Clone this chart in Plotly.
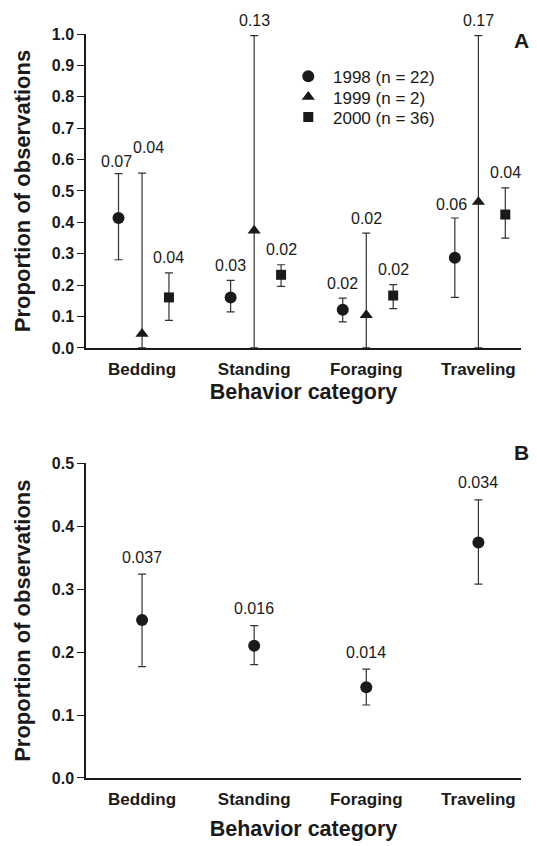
import plotly.graph_objects as go

# Behaviour categories on the x axis
categories = ["Bedding", "Standing", "Foraging", "Traveling"]

# Panel A: yearly means with interval bounds and standard errors
mean_1998 = [0.414, 0.161, 0.122, 0.287]
upper_1998 = [0.555, 0.215, 0.159, 0.414]
lower_1998 = [0.281, 0.115, 0.083, 0.161]
se_1998 = ["0.07", "0.03", "0.02", "0.06"]

mean_1999 = [0.045, 0.374, 0.105, 0.465]
upper_1999 = [0.557, 0.995, 0.366, 0.995]
lower_1999 = [0.0, 0.0, 0.0, 0.0]
se_1999 = ["0.04", "0.13", "0.02", "0.17"]

mean_2000 = [0.161, 0.233, 0.167, 0.425]
upper_2000 = [0.239, 0.265, 0.202, 0.510]
lower_2000 = [0.088, 0.196, 0.125, 0.350]
se_2000 = ["0.04", "0.02", "0.02", "0.04"]

# Panel B: pooled means
mean_all = [0.251, 0.210, 0.144, 0.374]
upper_all = [0.324, 0.242, 0.173, 0.442]
lower_all = [0.177, 0.180, 0.116, 0.308]
se_all = ["0.037", "0.016", "0.014", "0.034"]

yticks_a = [i / 10 for i in range(11)]
yticks_b = [i / 10 for i in range(6)]

INK = "#1a1a1a"
BAR = "#333333"
FONT = "Liberation Sans, Arial, sans-serif"

fig = go.Figure()
annotations = []

series_a = [
    ("1998 (n = 22)", "circle", 12, -0.21, mean_1998, upper_1998, lower_1998, se_1998),
    ("1999 (n = 2)", "triangle-up", 11.5, 0.0, mean_1999, upper_1999, lower_1999, se_1999),
    ("2000 (n = 36)", "square", 10, 0.24, mean_2000, upper_2000, lower_2000, se_2000),
]
legend_ids = ["legend", "legend2", "legend3"]

# per-label nudges (series index, category index) -> (xshift, yshift)
label_nudge = {(0, 0): (-2, 12), (1, 0): (6, 26), (0, 3): (-3, 13)}

for si, (name, sym, size, off, mean, up, lo, se) in enumerate(series_a):
    xs = [i + off for i in range(len(categories))]
    fig.add_trace(go.Scatter(
        x=xs, y=mean, mode="markers", name="\u00a0" + name,
        legend=legend_ids[si],
        marker=dict(symbol=sym, size=size, color=INK),
        error_y=dict(type="data", symmetric=False,
                     array=[u - m for u, m in zip(up, mean)],
                     arrayminus=[m - l for m, l in zip(mean, lo)],
                     color=BAR, thickness=1.2, width=4),
        cliponaxis=False, xaxis="x", yaxis="y",
    ))
    for ci, (x, u, s) in enumerate(zip(xs, up, se)):
        dx, dy = label_nudge.get((si, ci), (0, 15))
        annotations.append(dict(
            x=x, y=u, xref="x", yref="y", text=s, showarrow=False,
            xanchor="center", yanchor="middle", xshift=dx, yshift=dy,
            font=dict(family=FONT, size=16, color=INK)))

xs_b = list(range(len(categories)))
fig.add_trace(go.Scatter(
    x=xs_b, y=mean_all, mode="markers", showlegend=False,
    marker=dict(symbol="circle", size=12, color=INK),
    error_y=dict(type="data", symmetric=False,
                 array=[u - m for u, m in zip(upper_all, mean_all)],
                 arrayminus=[m - l for m, l in zip(mean_all, lower_all)],
                 color=BAR, thickness=1.2, width=4),
    cliponaxis=False, xaxis="x2", yaxis="y2",
))
for x, u, s in zip(xs_b, upper_all, se_all):
    annotations.append(dict(
        x=x, y=u, xref="x2", yref="y2", text=s, showarrow=False,
        xanchor="center", yanchor="middle", yshift=17,
        font=dict(family=FONT, size=16, color=INK)))

# panel letters
for letter, xref, yref, yv in [("A", "x domain", "y domain", 0.98),
                               ("B", "x2 domain", "y2 domain", 1.035)]:
    annotations.append(dict(
        x=1.0, y=yv, xref=xref, yref=yref, text=f"<b>{letter}</b>",
        showarrow=False, xanchor="center", yanchor="middle",
        font=dict(family=FONT, size=21, color=INK)))


def x_axis(standoff):
    return dict(
        range=[-0.5, 3.38], tickmode="array", tickvals=list(range(4)),
        ticktext=[f"<b>{c}</b>" for c in categories],
        showline=True, linecolor=INK, linewidth=1.5, mirror=False,
        ticks="outside", ticklen=5, tickcolor="rgba(0,0,0,0)",
        showgrid=False, zeroline=False, automargin=False,
        tickfont=dict(family=FONT, size=17, color=INK),
        title=dict(text="<b>Behavior category</b>", standoff=standoff,
                   font=dict(family=FONT, size=21.5, color=INK)),
    )


def y_axis(ticks, rng):
    return dict(
        range=rng, tickmode="array", tickvals=ticks,
        ticktext=[f"<b>{v:.1f}</b>" for v in ticks],
        showline=True, linecolor=INK, linewidth=1.5,
        ticks="outside", ticklen=7, tickwidth=1.3, tickcolor=INK,
        showgrid=False, zeroline=False, automargin=False,
        tickfont=dict(family=FONT, size=16, color=INK),
        title=dict(text="<b>Proportion of observations</b>", standoff=15,
                   font=dict(family=FONT, size=22, color=INK)),
    )


legend_style = dict(x=0.465, xanchor="left", yanchor="middle",
                    bgcolor="rgba(0,0,0,0)", borderwidth=0,
                    font=dict(family=FONT, size=17, color=INK),
                    itemsizing="trace")

fig.update_layout(
    width=537, height=846,
    margin=dict(l=86, r=16, t=34, b=68, autoexpand=False),
    paper_bgcolor="white", plot_bgcolor="white",
    xaxis=dict(domain=[0, 1], anchor="y", **x_axis(6)),
    yaxis=dict(domain=[0.578, 1.0], anchor="x", **y_axis(yticks_a, [0, 1.0])),
    xaxis2=dict(domain=[0, 1], anchor="y2", **x_axis(13)),
    yaxis2=dict(domain=[0.0, 0.423], anchor="x2", **y_axis(yticks_b, [0, 0.5])),
    legend=dict(y=0.9426, **legend_style),
    legend2=dict(y=0.9149, **legend_style),
    legend3=dict(y=0.8880, **legend_style),
    annotations=annotations,
)

fig.write_html("out.html")
